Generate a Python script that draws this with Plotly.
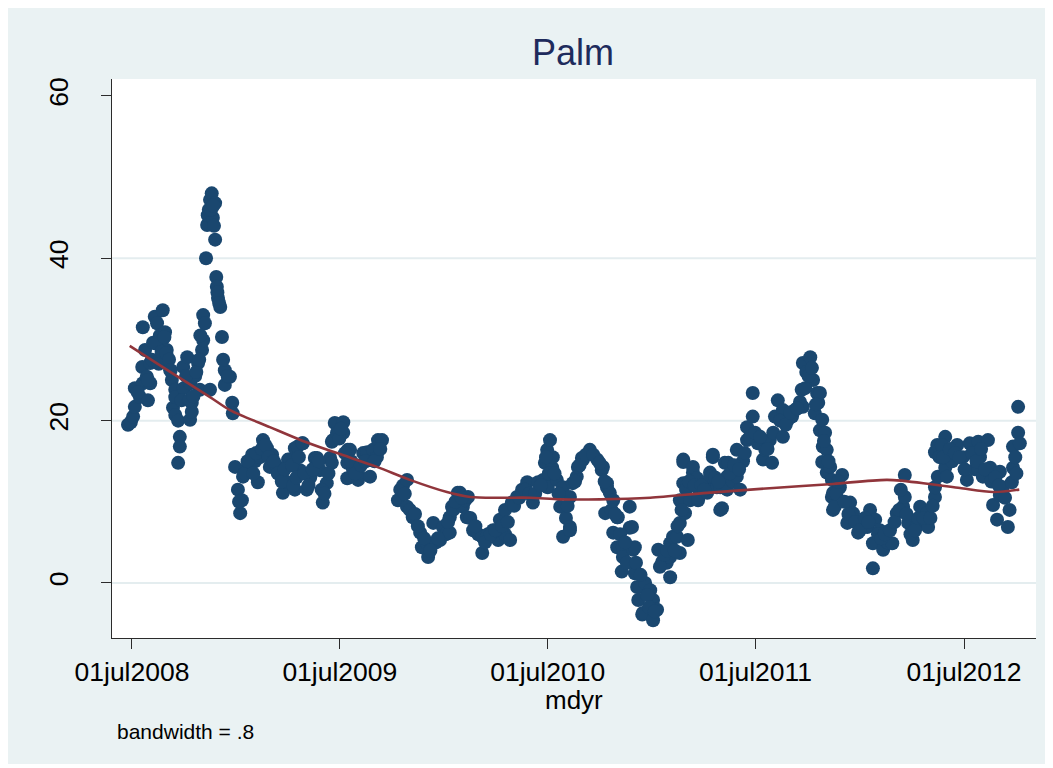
import pandas as pd
import plotly.graph_objects as go

# ---- data ----
# mdyr: days since 01jul2008 ; palm: value
mdyr_days = [
    -7, -2, 2, 5, 5, 14, 18, 19, 19, 23,
    28, 32, 32, 37, 40, 44, 49, 54, 54, 58,
    61, 63, 67, 70, 72, 76, 76, 76, 81, 81,
    84, 84, 90, 91, 97, 102, 102, 105, 105, 111,
    116, 119, 123, 125, 125, 128, 130, 132, 133, 137,
    137, 140, 142, 146, 146, 148, 149, 151, 155, 158,
    163, 163, 172, 176, 177, 181,
    186, 190, 193, 195, 200, 207, 211, 216, 221, 225,
    230, 237, 242, 246, 253, 260, 265, 270, 274, 277,
    286, 286, 291, 295, 299, 300, 307, 313, 321, 325,
    330, 335, 342, 348, 351, 351, 353, 356, 371, 371,
    378, 378, 379, 383, 388, 397, 397, 406, 413, 418,
    423, 430, 432, 439,
    467, 471, 476, 483, 483, 488, 493, 506, 509, 518,
    520, 529, 534, 541, 546, 551, 558, 558, 562, 564,
    572, 576, 581, 585, 588, 590, 599, 608, 615, 615,
    625, 634, 643, 646, 655, 655, 664, 667, 676, 685,
    694, 704, 713, 722, 725, 729, 730, 734, 738, 739,
    746, 752, 757, 757, 762, 769, 769, 769, 774, 781,
    783, 790, 792, 804, 817, 825, 827, 831, 834, 834,
    839, 845, 845, 852, 852, 853, 860, 862, 862, 874,
    874, 878, 880, 883, 883, 887, 889, 892, 896, 897,
    901, 910, 915, 915, 922, 924, 931, 939, 945, 945,
    945, 950, 957, 962, 962, 962, 968, 968, 968, 971,
    976, 980, 985, 985, 992, 994, 994, 1010, 1010, 1015,
    1015, 1020, 1020, 1027, 1033, 1033, 1036, 1041, 1045, 1045,
    1047, 1055, 1062, 1062, 1068, 1073, 1080, 1080, 1090, 1090,
    1099, 1108, 1112, 1120, 1124, 1126, 1129, 1134, 1143, 1143,
    1152, 1159, 1164, 1173, 1176, 1178, 1178, 1184, 1191, 1196,
    1199, 1203, 1205, 1208, 1208, 1212, 1213, 1212, 1217, 1220,
    1220, 1226, 1229, 1229, 1231, 1231, 1234, 1243, 1247, 1256,
    1261, 1266, 1275, 1282, 1291, 1296, 1301, 1301, 1305, 1313,
    1319, 1327, 1335, 1343, 1354, 1357, 1357, 1363, 1371, 1378,
    1384, 1396, 1398, 1410, 1410, 1410, 1414, 1415, 1428, 1428,
    1431, 1431, 1440, 1449, 1459, 1466, 1471, 1480, 1486, 1489,
    1494, 1503, 1507, 1512, 1519, 1524, 1524, 1529, 1538, 1545,
    1547, 1547, 1551, 1556, 1559, 1556,
]
palm = [
    19.5, 19.8, 20.5, 21.7, 24.0, 22.9, 26.6, 24.6, 31.5, 28.7,
    22.5, 27.1, 24.6, 29.6, 32.8, 32.0, 30.5, 33.6, 30.0, 30.9,
    28.7, 27.7, 26.2, 25.0, 21.6, 23.8, 22.9, 20.7, 20.0, 14.8,
    18.0, 16.8, 26.6, 24.0, 27.8, 24.6, 20.1, 22.2, 21.1, 25.5,
    27.1, 23.8, 28.7, 29.9, 33.0, 32.0, 40.0, 44.1, 45.3, 47.2,
    23.8, 48.0, 45.0, 46.8, 42.3, 37.7, 36.5, 35.1, 34.0, 30.3,
    26.2, 24.4, 25.4, 22.2, 20.9, 14.3,
    11.5, 8.6, 10.2, 13.1, 14.0, 14.5, 15.8, 15.0, 12.4, 15.5,
    17.6, 16.6, 14.3, 15.8, 14.5, 13.3, 11.1, 12.5, 15.2, 15.2,
    16.6, 11.5, 16.8, 13.9, 17.2, 17.2, 11.5, 13.0, 15.4, 15.4,
    13.9, 9.9, 12.3, 15.4, 14.8, 17.4, 17.6, 19.7, 19.8, 18.5,
    14.8, 12.9, 16.4, 16.4, 14.0, 12.7, 13.5, 16.0, 16.1, 13.1,
    16.4, 15.5, 17.6, 17.6,
    10.2, 11.5, 12.0, 12.7, 9.4, 9.0, 8.1, 6.2, 4.4, 4.9,
    3.2, 7.4, 5.0, 5.3, 6.9, 6.0, 8.1, 6.2, 9.4, 9.0,
    11.1, 11.1, 9.4, 10.2, 8.1, 10.6, 6.5, 6.0, 5.7, 3.7,
    6.0, 6.5, 5.3, 7.8, 9.0, 6.0, 5.3, 9.9, 10.6, 11.5,
    12.4, 9.9, 12.4, 12.7, 14.8, 16.4, 11.8, 17.6, 14.2, 15.5,
    12.7, 9.4, 11.8, 5.7, 8.0, 6.9, 10.6, 6.5, 12.3, 13.1,
    14.3, 15.4, 15.2, 16.4, 15.2, 13.9, 14.3, 8.6, 11.8, 12.3,
    11.1, 10.2, 6.2, 8.1, 4.4, 8.1, 1.4, 4.4, 3.2, 9.4,
    6.8, 6.9, 4.1, 4.4, 1.2, -0.5, -2.1, -0.5, -3.9, -3.7,
    0.0, -0.9, -2.1, -4.6, -3.3, 4.1, 2.6, 2.5, 0.7, 3.2,
    4.9, 5.7, 5.7, 3.7, 7.4, 10.2, 12.3, 15.2, 14.9, 8.6,
    5.3, 10.2, 13.6, 14.3, 12.9, 10.6, 10.2, 11.1, 12.3, 13.6,
    13.1, 15.5, 15.8, 11.8, 9.0, 11.8, 9.2, 14.8, 11.5, 13.1,
    14.8, 12.5, 13.1, 16.4, 11.5, 15.0, 17.6, 19.2, 20.5, 23.4,
    17.2, 15.2, 16.4, 17.6, 14.8, 18.5, 20.5, 22.5, 21.3, 18.0,
    20.1, 20.5, 21.3, 22.3, 23.8, 21.7, 27.1, 26.0, 27.8, 25.0,
    20.9, 23.4, 22.2, 18.8, 23.4, 20.1, 16.8, 14.9, 18.5, 16.4,
    13.6, 14.3, 12.7, 10.6, 9.0, 11.1, 9.4, 11.8, 13.3, 7.4,
    9.9, 8.6, 6.2, 7.0, 6.9, 9.0, 4.9, 1.8, 7.8, 6.5,
    4.1, 5.0, 4.9, 8.6, 9.4, 10.6, 13.3, 7.4, 5.3, 7.0,
    9.4, 8.6, 6.9, 10.6, 11.8, 16.1, 17.0, 13.1, 18.0, 14.2,
    16.4, 13.1, 15.0, 17.0, 15.5, 12.7, 17.2, 14.0, 17.4, 15.5,
    13.1, 17.6, 14.2, 9.6, 7.8, 13.7, 10.8, 11.8, 6.9, 12.4,
    14.2, 16.8, 15.5, 18.5, 17.2, 21.7,
]

# further observations read inside the dense clusters
mdyr_days_b = [
    10, 26, 28, 35, 42, 47, 52, 57, 60, 65,
    68, 87, 95, 100, 108, 113, 118, 120, 135, 139,
    143, 144, 150, 153, 160, 168,
    188, 198, 203, 213, 218, 228, 234, 240, 249, 256,
    263, 268, 281, 283, 289, 293, 303, 310, 317, 328,
    333, 338, 345, 360, 364, 367, 374, 385, 392, 402,
    410, 426, 436,
    479, 497, 502, 513, 524, 537, 555, 568, 579, 594,
    603, 620, 630, 638, 650, 660, 671, 680, 690, 698,
    708, 718,
    727, 732, 742, 749, 765, 778, 786, 797, 810, 821,
    830, 842, 848, 857, 866, 869, 885, 893, 905, 908,
    918, 927, 935, 940, 953, 958, 965, 973, 978, 988,
    1000, 1005, 1024, 1030, 1050, 1058, 1066, 1076, 1085, 1094,
    1103, 1116, 1138, 1148, 1156, 1168, 1182, 1188, 1194, 1201,
    1215, 1223, 1237, 1240, 1251, 1258, 1270, 1278, 1287, 1293,
    1310, 1316, 1322, 1331, 1339, 1347, 1350, 1360, 1367, 1375,
    1381, 1390, 1402, 1406, 1418, 1422, 1425, 1436, 1445, 1453,
    1462, 1475, 1483, 1491, 1498, 1509, 1516, 1522, 1533, 1541,
    1553,
]
palm_b = [
    23.5, 25.4, 25.0, 27.5, 29.5, 27.0, 28.5, 30.3, 28.3, 27.5,
    26.2, 22.5, 25.5, 22.5, 23.0, 26.0, 27.5, 30.5, 46.0, 46.0,
    46.5, 44.0, 35.8, 34.5, 27.5, 25.5,
    10.0, 13.5, 15.0, 13.5, 16.0, 16.5, 17.0, 15.5, 15.0, 13.5,
    12.5, 14.0, 14.5, 12.0, 13.0, 15.5, 13.5, 12.0, 14.0, 15.0,
    11.5, 11.0, 13.5, 18.5, 17.8, 19.0, 16.0, 15.0, 13.5, 14.5,
    15.0, 15.0, 16.5,
    11.0, 8.5, 7.0, 5.5, 4.0, 5.5, 7.5, 10.0, 10.5, 8.0,
    7.0, 5.0, 6.0, 6.5, 7.0, 7.5, 9.5, 10.5, 11.5, 11.0,
    11.0, 12.0,
    15.5, 13.5, 13.5, 11.0, 9.5, 12.5, 14.5, 15.8, 15.8, 14.8,
    12.5, 9.0, 8.5, 6.0, 5.0, 2.5, 2.5, 1.0, -1.5, -3.0,
    -3.5, 2.0, 3.5, 4.0, 4.0, 7.0, 9.0, 11.5, 12.5, 12.0,
    12.0, 11.5, 13.0, 12.5, 13.5, 14.5, 14.0, 16.0, 18.0, 18.5,
    18.0, 16.5, 20.0, 19.5, 21.0, 21.5, 24.0, 25.5, 26.5, 22.0,
    17.5, 15.0, 11.0, 12.5, 10.0, 8.5, 7.5, 6.5, 8.0, 7.5,
    6.0, 5.5, 6.0, 6.5, 7.5, 9.0, 11.5, 8.5, 6.0, 6.5,
    8.0, 8.0, 8.0, 9.5, 15.5, 17.0, 15.5, 16.5, 16.0, 15.5,
    14.0, 16.0, 15.0, 16.5, 14.0, 12.5, 13.0, 12.0, 10.5, 9.0,
    13.5,
]
assert len(mdyr_days) == len(palm)
assert len(mdyr_days_b) == len(palm_b)

# lowess curve (bandwidth = .8)
lowess_days = [-4, 67, 137, 172, 242, 300, 360, 430, 488, 553, 594, 646,
               699, 752, 822, 910, 1010, 1126, 1231, 1326, 1401, 1454, 1512, 1558]
lowess_vals = [29.2, 26.0, 22.9, 21.3, 19.2, 17.5, 16.0, 14.3, 12.7, 11.2, 10.6, 10.5,
               10.5, 10.3, 10.3, 10.5, 11.1, 11.7, 12.2, 12.7, 12.2, 11.7, 11.2, 11.5]

tick_dates = ["2008-07-01", "2009-07-01", "2010-07-01", "2011-07-01", "2012-07-01"]
tick_labels = ["01jul2008", "01jul2009", "01jul2010", "01jul2011", "01jul2012"]
y_ticks = [0, 20, 40, 60]
grid_vals = [0, 20, 40]

title_text = "Palm"
xtitle_text = "mdyr"
note_text = "bandwidth = .8"

# ---- build ----
base = pd.Timestamp("2008-07-01")
x = base + pd.to_timedelta(mdyr_days + mdyr_days_b, unit="D")
y = palm + palm_b
xl = base + pd.to_timedelta(lowess_days, unit="D")

OFF = 8  # page body margin of the html page
W, H = 1053 - OFF, 768 - 4 - OFF
# plot-area edges in page pixels: left 112, right 1036, top 79, bottom 638
L, T = 112 - OFF, 79 - OFF
R = W - (1036 - OFF)
B = H - (638 - OFF)
pw, ph = W - L - R, H - T - B


def px2paper_x(px):
    return (px - OFF - L) / pw


def py2paper_y(py):
    return (H - B - (py - OFF)) / ph


BG = "#EAF2F3"
AX = "#2b2b2b"
FONT = "Liberation Sans, Arial, Helvetica, sans-serif"

fig = go.Figure()
fig.add_trace(go.Scatter(
    x=x, y=y, mode="markers",
    marker=dict(size=14, color="#1A476F", line=dict(width=0)),
    showlegend=False, hoverinfo="skip",
))
fig.add_trace(go.Scatter(
    x=xl, y=lowess_vals, mode="lines",
    line=dict(color="#90353B", width=2.6, shape="spline", smoothing=0.8),
    showlegend=False, hoverinfo="skip",
))

shapes = []
for g in grid_vals:
    shapes.append(dict(type="line", xref="paper", yref="y", x0=0, x1=1, y0=g, y1=g,
                       line=dict(color="#E4EDEF", width=2), layer="below"))

annotations = [
    dict(text=title_text, x=px2paper_x(573), y=py2paper_y(53), xref="paper", yref="paper",
         xanchor="center", yanchor="middle", showarrow=False,
         font=dict(size=36, color="#1E2B5C", family=FONT)),
    dict(text=xtitle_text, x=px2paper_x(574), y=py2paper_y(700), xref="paper", yref="paper",
         xanchor="center", yanchor="middle", showarrow=False,
         font=dict(size=26, color="black", family=FONT)),
    dict(text=note_text, x=px2paper_x(115), y=py2paper_y(731), xref="paper", yref="paper",
         xanchor="left", yanchor="middle", showarrow=False,
         font=dict(size=21, color="black", family=FONT)),
]

fig.update_layout(
    width=W, height=H, autosize=False,
    margin=dict(l=L, r=R, t=T, b=B, pad=0),
    paper_bgcolor=BG, plot_bgcolor="white",
    shapes=shapes, annotations=annotations,
    font=dict(family=FONT, color="black"),
    xaxis=dict(
        type="date",
        range=[base - pd.Timedelta(days=35.1), base + pd.Timedelta(days=1587.4)],
        tickvals=tick_dates, ticktext=tick_labels,
        ticks="outside", ticklen=10, tickwidth=1.3, tickcolor=AX,
        showline=True, linecolor=AX, linewidth=1.3,
        showgrid=False, zeroline=False,
        tickfont=dict(size=26.5, color="black", family=FONT),
    ),
    yaxis=dict(
        range=[-6.78, 62.09],
        tickvals=y_ticks, ticktext=[str(v) for v in y_ticks],
        tickangle=-90,
        ticks="outside", ticklen=10, tickwidth=1.3, tickcolor=AX,
        showline=True, linecolor=AX, linewidth=1.3,
        showgrid=False, zeroline=False,
        ticklabelstandoff=22,
        tickfont=dict(size=26.5, color="black", family=FONT),
    ),
)

fig.write_html("out.html")
